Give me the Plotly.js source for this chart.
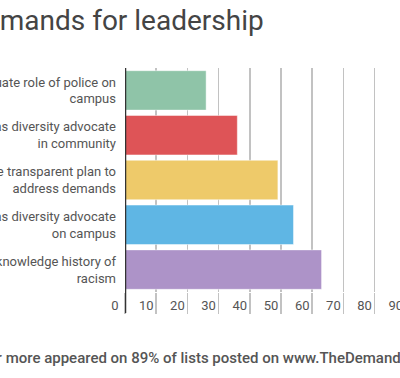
<!DOCTYPE html>
<html><head><meta charset="utf-8">
<script src="https://cdn.plot.ly/plotly-3.0.1.min.js"></script>
<style>html,body{margin:0;padding:0;overflow:hidden;background:#fff}#chart{position:absolute;left:0;top:0;width:480px;height:378px}</style>
</head><body><div id="chart"></div>
<script>
const categories = [
  "Re-evaluate role of police on<br>campus",
  "Appoint as diversity advocate<br>in community",
  "Create transparent plan to<br>address demands",
  "Appoint as diversity advocate<br>on campus",
  "Acknowledge history of<br>racism"
];
const values = [26, 36, 49, 54, 63];
const colors = ["#8fc4a8", "#de5457", "#eeca6a", "#5fb6e4", "#ad93c8"];
const tickVals = [0,10,20,30,40,50,60,70,80,90,100];
const titlePrefix = "Most common de";
const titleRest = "mands for leadership";
const footPrefix = "Demands listed here or ";
const footRest = "more appeared on 89% of lists posted on www.TheDemands.org";

const W = 480, H = 378, L = 125, T = 68, B = 86;
const plotW = 312.4;
const R = W - L - plotW;
const plotH = H - T - B;
const py = p => (H - B - p) / plotH;
const px = p => (p - L) / plotW;

function draw() {
  const ctx = document.createElement("canvas").getContext("2d");
  ctx.font = '28px "Roboto"';
  const tPre = ctx.measureText(titlePrefix).width;
  ctx.font = '500 15px "Roboto"';
  const fPre = ctx.measureText(footPrefix).width;

  const trace = {
    type: "bar", orientation: "h",
    x: values, y: categories,
    marker: {color: colors, line: {color: "rgba(255,255,255,0.45)", width: 1}},
    hoverinfo: "none"
  };
  const layout = {
    width: W, height: H,
    margin: {l: L, r: R, t: T, b: B},
    paper_bgcolor: "#fff", plot_bgcolor: "#fff",
    font: {family: "Roboto, sans-serif", color: "#555"},
    bargap: 0.12,
    showlegend: false,
    xaxis: {
      range: [0, 100], tickvals: tickVals, ticktext: tickVals.map(String),
      showgrid: true, gridcolor: "#c2c2c2", gridwidth: 1.5,
      zeroline: false, showline: false,
      ticks: "outside", ticklen: 21, tickwidth: 1.5, tickcolor: "#c2c2c2",
      ticklabelshift: -10, ticklabelstandoff: -20,
      tickfont: {size: 13, color: "#555"}, fixedrange: true
    },
    yaxis: {
      autorange: "reversed", showgrid: false, zeroline: false, showline: false,
      ticks: "", ticklabelstandoff: 8,
      tickfont: {size: 13, color: "#555"}, fixedrange: true
    },
    shapes: [{type: "line", xref: "x", yref: "paper", x0: 0, x1: 0, y0: py(313), y1: py(68),
              line: {color: "#333", width: 2.5}}],
    annotations: [
      {text: titlePrefix + titleRest, xref: "paper", yref: "paper", x: px(-1 - tPre), y: py(20.5),
       xanchor: "left", yanchor: "middle", borderpad: 0, borderwidth: 0,
       showarrow: false, font: {size: 28, color: "#444"}},
      {text: footPrefix + footRest, xref: "paper", yref: "paper", x: px(5.7 - fPre), y: py(357.5),
       xanchor: "left", yanchor: "middle", borderpad: 0, borderwidth: 0,
       showarrow: false, font: {size: 15, color: "#555", weight: 500}}
    ]
  };
  Plotly.newPlot("chart", [trace], layout, {displayModeBar: false, staticPlot: true});
}
Promise.all([document.fonts.load('28px Roboto'), document.fonts.load('500 15px Roboto')]).then(draw, draw);
</script></body></html>
